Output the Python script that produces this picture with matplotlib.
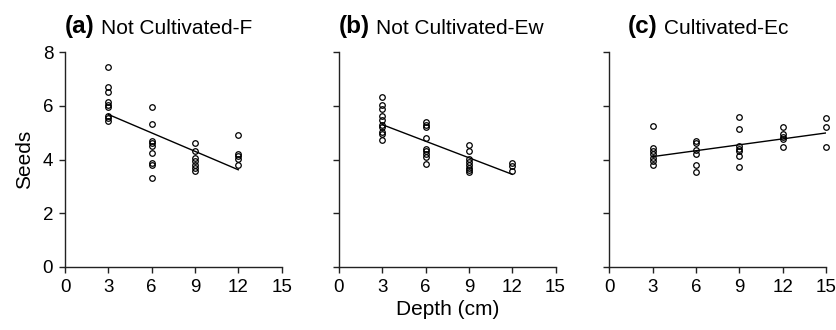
import matplotlib
matplotlib.use('Agg')
import matplotlib.pyplot as plt

plt.rcParams['font.family'] = ['Liberation Sans', 'DejaVu Sans']

# Seed counts per sampling depth (cm) for each site
depth_a = [3, 6, 9, 12]
seeds_a = [
    [7.45, 6.72, 6.52, 6.15, 6.05, 5.95, 5.63, 5.55, 5.42],
    [5.96, 5.32, 4.70, 4.60, 4.49, 4.26, 3.87, 3.80, 3.32],
    [4.62, 4.31, 4.05, 3.95, 3.80, 3.70, 3.57],
    [4.90, 4.22, 4.12, 4.02, 3.80],
]
fit_a = [5.68, 3.62]

depth_b = [3, 6, 9, 12]
seeds_b = [
    [6.33, 6.03, 5.89, 5.63, 5.47, 5.28, 5.20, 5.01, 4.95, 4.73],
    [5.38, 5.30, 5.20, 4.79, 4.40, 4.31, 4.19, 4.11, 3.85],
    [4.56, 4.31, 4.03, 3.90, 3.78, 3.70, 3.60, 3.54],
    [3.87, 3.75, 3.57],
]
fit_b = [5.30, 3.45]

depth_c = [3, 6, 9, 12, 15]
seeds_c = [
    [5.26, 4.43, 4.30, 4.19, 4.07, 3.93, 3.78],
    [4.68, 4.61, 4.34, 4.19, 3.78, 3.54],
    [5.60, 5.13, 4.52, 4.40, 4.31, 4.13, 3.72],
    [5.20, 4.95, 4.85, 4.77, 4.48],
    [5.54, 5.20, 4.48],
]
fit_c = [4.11, 4.99]

panels = [
    ('(a)', 'Not Cultivated-F', depth_a, seeds_a, fit_a),
    ('(b)', 'Not Cultivated-Ew', depth_b, seeds_b, fit_b),
    ('(c)', 'Cultivated-Ec', depth_c, seeds_c, fit_c),
]
x_ticks = [0, 3, 6, 9, 12, 15]
y_ticks = [0, 2, 4, 6, 8]

fig = plt.figure(figsize=(8.36, 3.30), dpi=100)
lefts = [0.0778, 0.4055, 0.729]
title_x = [0.0, 0.0, 0.085]

for i, (tag, name, depth, seeds, fit) in enumerate(panels):
    ax = fig.add_axes([lefts[i], 0.191, 0.259, 0.651])
    for d, vals in zip(depth, seeds):
        ax.plot([d] * len(vals), vals, 'o', ms=4.0, mfc='none', mec='black', mew=0.9,
                clip_on=False)
    ax.plot([depth[0], depth[-1]], fit, color='black', lw=1.0)

    ax.set_xlim(0, 15)
    ax.set_ylim(0, 8)
    ax.set_xticks(x_ticks)
    ax.set_yticks(y_ticks)
    for side in ['top', 'right']:
        ax.spines[side].set_visible(False)
    for side in ['left', 'bottom']:
        ax.spines[side].set_color('#222222')
        ax.spines[side].set_linewidth(1.0)
    ax.tick_params(direction='out', length=4.5, width=1.0, color='#222222',
                   labelsize=13.5, pad=4)
    if i > 0:
        ax.set_yticklabels([])
    else:
        ax.set_ylabel('Seeds', fontsize=15, labelpad=6)
    if i == 1:
        ax.set_xlabel('Depth (cm)', fontsize=15, labelpad=3)

    t = ax.text(title_x[i], 1.088, tag, transform=ax.transAxes, fontsize=17.5,
                fontweight='bold', ha='left', va='baseline')
    ax.annotate(name, xy=(1, 0), xycoords=t, xytext=(4.5, 0),
                textcoords='offset points', fontsize=15, ha='left', va='bottom')

fig.savefig('out.png', dpi=100)
